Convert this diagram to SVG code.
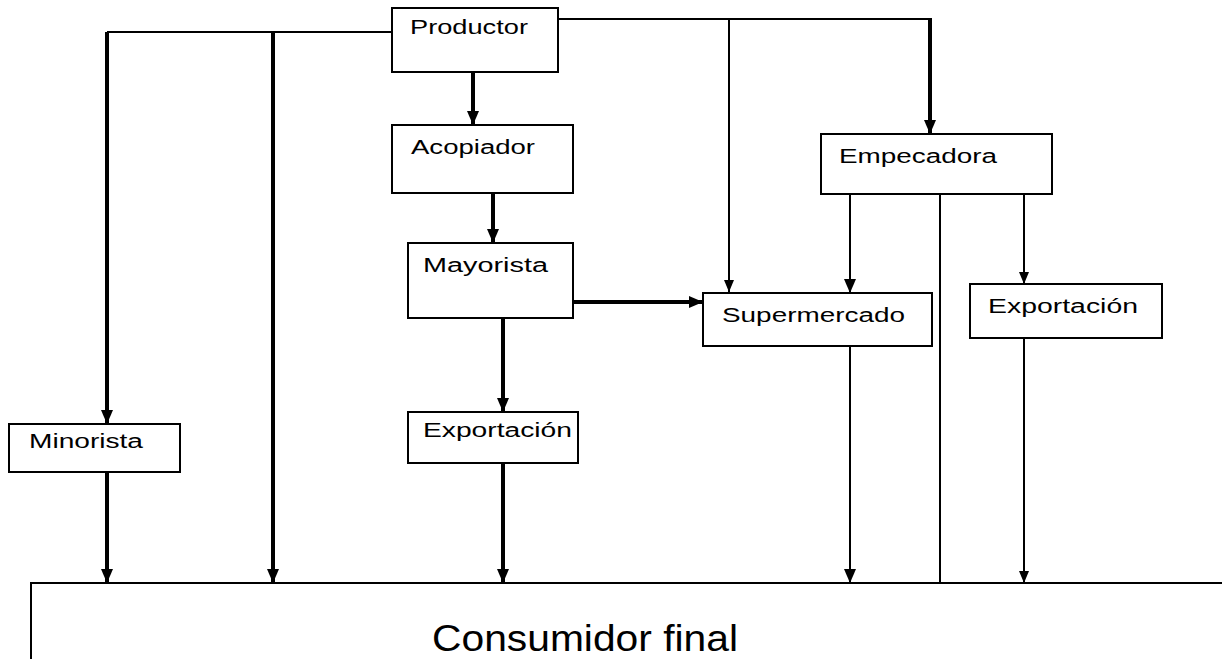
<svg xmlns="http://www.w3.org/2000/svg" width="1222" height="659" viewBox="0 0 1222 659">
<style>
.box{fill:#fff;stroke:#000;stroke-width:2}
.lbl{font-family:"Liberation Sans",Arial,sans-serif;font-size:20px;fill:#000}
.thick{stroke:#000;stroke-width:4;fill:none}
.thin{stroke:#000;stroke-width:2;fill:none}
</style>
<defs>
<marker id="ah" markerUnits="userSpaceOnUse" markerWidth="14" markerHeight="12" viewBox="0 0 14 12" refX="14" refY="6" orient="auto">
<path d="M0,0 L14,6 L0,12 Z" fill="#000"/>
</marker>
<marker id="ahs" markerUnits="userSpaceOnUse" markerWidth="12" markerHeight="10" viewBox="0 0 12 10" refX="12" refY="5" orient="auto">
<path d="M0,0 L12,5 L0,10 Z" fill="#000"/>
</marker>
</defs>
<rect width="1222" height="659" fill="#fff"/>
<g id="connectors">
<polyline class="thin" points="392,32 107,32"/>
<line class="thick" x1="107" y1="32" x2="107" y2="424" marker-end="url(#ah)"/>
<line class="thick" x1="273" y1="32" x2="273" y2="583" marker-end="url(#ah)"/>
<polyline class="thin" points="558,19 930,19"/>
<line class="thin" x1="729" y1="19" x2="729" y2="292" marker-end="url(#ahs)"/>
<line class="thick" x1="930" y1="18" x2="930" y2="134" marker-end="url(#ah)"/>
<line class="thick" x1="473" y1="72" x2="473" y2="125" marker-end="url(#ah)"/>
<line class="thick" x1="493" y1="193" x2="493" y2="243" marker-end="url(#ah)"/>
<line class="thick" x1="569" y1="302" x2="703" y2="302" marker-end="url(#ah)"/>
<line class="thick" x1="503" y1="318" x2="503" y2="412" marker-end="url(#ah)"/>
<line class="thick" x1="503" y1="463" x2="503" y2="583" marker-end="url(#ah)"/>
<line class="thick" x1="107" y1="472" x2="107" y2="583" marker-end="url(#ah)"/>
<line class="thin" x1="850" y1="194" x2="850" y2="293" marker-end="url(#ah)"/>
<line class="thin" x1="940" y1="194" x2="940" y2="583"/>
<line class="thin" x1="1024" y1="194" x2="1024" y2="284" marker-end="url(#ahs)"/>
<line class="thin" x1="850" y1="346" x2="850" y2="583" marker-end="url(#ah)"/>
<line class="thin" x1="1024" y1="338" x2="1024" y2="583" marker-end="url(#ahs)"/>
</g>
<g id="productor">
<rect class="box" x="392" y="8" width="166" height="64"/>
<text class="lbl" x="410" y="34" textLength="118" lengthAdjust="spacingAndGlyphs">Productor</text>
</g>
<g id="acopiador">
<rect class="box" x="392" y="125" width="181" height="68"/>
<text class="lbl" x="411" y="154" textLength="124" lengthAdjust="spacingAndGlyphs">Acopiador</text>
</g>
<g id="mayorista">
<rect class="box" x="408" y="243" width="165" height="75"/>
<text class="lbl" x="423" y="272" textLength="125" lengthAdjust="spacingAndGlyphs">Mayorista</text>
</g>
<g id="exportacion1">
<rect class="box" x="408" y="412" width="170" height="51"/>
<text class="lbl" x="423" y="437" textLength="149" lengthAdjust="spacingAndGlyphs">Exportación</text>
</g>
<g id="minorista">
<rect class="box" x="9" y="424" width="171" height="48"/>
<text class="lbl" x="29" y="448" textLength="114" lengthAdjust="spacingAndGlyphs">Minorista</text>
</g>
<g id="empecadora">
<rect class="box" x="821" y="134" width="231" height="60"/>
<text class="lbl" x="839" y="163" textLength="158" lengthAdjust="spacingAndGlyphs">Empecadora</text>
</g>
<g id="supermercado">
<rect class="box" x="703" y="293" width="229" height="53"/>
<text class="lbl" x="722" y="322" textLength="183" lengthAdjust="spacingAndGlyphs">Supermercado</text>
</g>
<g id="exportacion2">
<rect class="box" x="970" y="284" width="192" height="54"/>
<text class="lbl" x="988" y="313" textLength="150" lengthAdjust="spacingAndGlyphs">Exportación</text>
</g>
<g id="consumidor">
<polyline class="thin" points="1222,583 31,583 31,659"/>
<text x="432" y="651" font-family="'Liberation Sans',Arial,sans-serif" font-size="37" textLength="306" lengthAdjust="spacingAndGlyphs">Consumidor final</text>
</g>
</svg>
